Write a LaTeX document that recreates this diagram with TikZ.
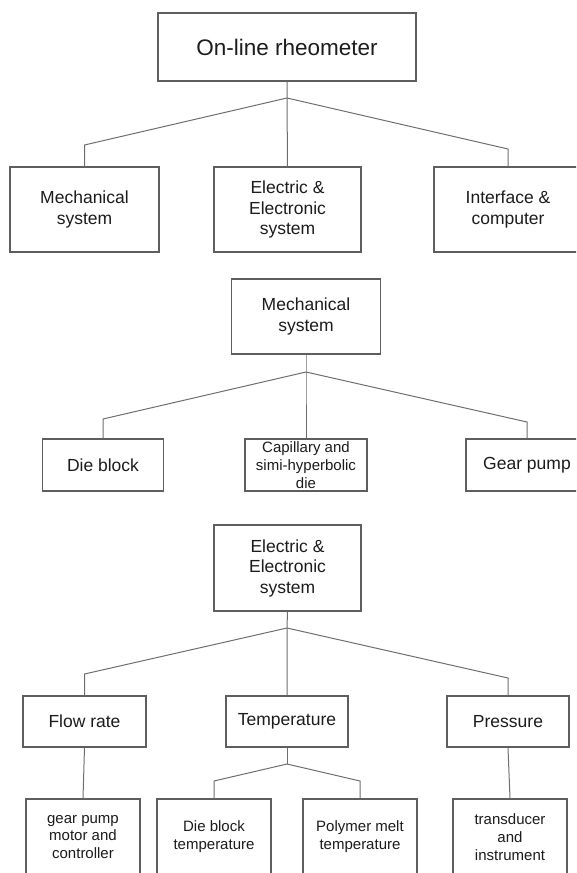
\documentclass[tikz,border=0pt]{standalone}
\usepackage{fontspec}
\setmainfont{Liberation Sans}
\definecolor{boxline}{HTML}{5E5E5E}
\definecolor{linkline}{HTML}{6E6E6E}
\definecolor{inktext}{HTML}{1C1C1C}

\begin{document}
\begin{tikzpicture}[x=1pt, y=-1pt,
  unit/.style={draw=boxline, line width=1.1pt, fill=white, text=inktext, align=center, inner sep=0pt},
  big/.style={font=\fontsize{17.5}{20.5}\selectfont},
  small/.style={font=\fontsize{15}{17.8}\selectfont},
  link/.style={draw=linkline, line width=1pt}]

% Page frame (right column runs off the edge)
\clip (0,0) rectangle (576,873);

% --- On-line rheometer ---
\node[unit, minimum width=258pt, minimum height=68pt, font=\fontsize{22.5}{27}\selectfont] (rheo) at (287,47) {On-line rheometer};
\node[unit, big, minimum width=149pt, minimum height=85pt] (mech) at (84.5,209.5) {Mechanical\\system};
\node[unit, big, minimum width=147pt, minimum height=85pt] (elec) at (287.5,209.5) {Electric \&\\Electronic\\system};
\node[unit, big, minimum width=148pt, minimum height=85pt] (iface) at (508,209.5) {Interface \&\\computer};

\coordinate (rheo-hub) at (287,98);
\coordinate (mech-elbow) at (84.5,145);
\coordinate (iface-elbow) at (508,149);
\draw[link] (rheo.south) -- (rheo-hub) -- (elec.north);
\draw[link] (rheo-hub) -- (mech-elbow) -- (mech.north);
\draw[link] (rheo-hub) -- (iface-elbow) -- (iface.north);

% --- Mechanical system ---
\node[unit, big, minimum width=149pt, minimum height=75pt] (mechsys) at (306,316.5) {Mechanical\\system};
\node[unit, big, minimum width=121pt, minimum height=52pt] (dieblock) at (103,465) {Die block};
\node[unit, small, minimum width=122pt, minimum height=52pt] (capillary) at (306,465) {Capillary and\\simi-hyperbolic\\die};
\node[unit, big, minimum width=122pt, minimum height=52pt] (gearpump) at (527,465) {Gear pump};

\coordinate (mechsys-hub) at (306,372);
\coordinate (dieblock-elbow) at (103,419);
\coordinate (gearpump-elbow) at (527,422);
\draw[link] (mechsys.south) -- (mechsys-hub) -- (capillary.north);
\draw[link] (mechsys-hub) -- (dieblock-elbow) -- (dieblock.north);
\draw[link] (mechsys-hub) -- (gearpump-elbow) -- (gearpump.north);

% --- Electric & Electronic system ---
\node[unit, big, minimum width=147pt, minimum height=86pt] (elecsys) at (287.5,568) {Electric \&\\Electronic\\system};
\node[unit, big, minimum width=123pt, minimum height=51pt] (flowrate) at (84.5,721.5) {Flow rate};
\node[unit, big, minimum width=122pt, minimum height=51pt] (temp) at (287,721.5) {Temperature};
\node[unit, big, minimum width=122pt, minimum height=51pt] (pressure) at (508,721.5) {Pressure};

\coordinate (elecsys-hub) at (287,628);
\coordinate (flowrate-elbow) at (84.5,674);
\coordinate (pressure-elbow) at (508,678);
\draw[link] (elecsys.south) -- (elecsys-hub) -- (temp.north);
\draw[link] (elecsys-hub) -- (flowrate-elbow) -- (flowrate.north);
\draw[link] (elecsys-hub) -- (pressure-elbow) -- (pressure.north);

% sensors and drives
\node[unit, small, minimum width=114pt, minimum height=76pt] (pumpmotor) at (83,837) {gear pump\\motor and\\controller};
\node[unit, small, minimum width=114pt, minimum height=76pt] (dietemp) at (214,837) {Die block\\temperature};
\node[unit, small, minimum width=114pt, minimum height=76pt] (melttemp) at (360,837) {Polymer melt\\temperature};
\node[unit, small, minimum width=114pt, minimum height=76pt] (transducer) at (510,837) {transducer\\and\\instrument};

\coordinate (temp-hub) at (287,764);
\coordinate (dietemp-elbow) at (214,781);
\coordinate (melttemp-elbow) at (360,781);
\draw[link] (flowrate.south) -- (pumpmotor.north);
\draw[link] (temp.south) -- (temp-hub);
\draw[link] (temp-hub) -- (dietemp-elbow) -- (dietemp.north);
\draw[link] (temp-hub) -- (melttemp-elbow) -- (melttemp.north);
\draw[link] (pressure.south) -- (transducer.north);

\end{tikzpicture}
\end{document}
